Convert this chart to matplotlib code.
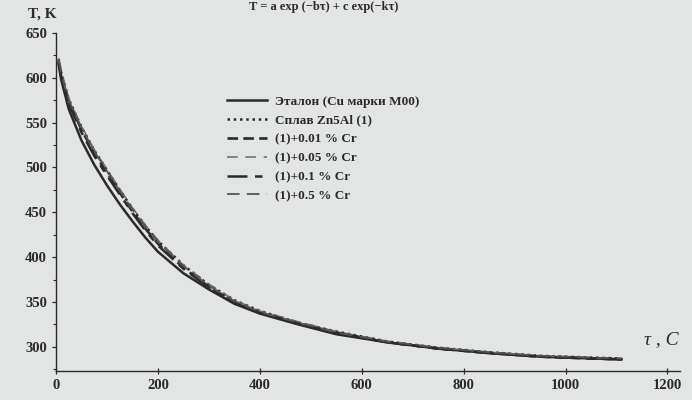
import numpy as np
import matplotlib.pyplot as plt
from matplotlib.ticker import MultipleLocator

# time, s and temperature, K
t = [5, 10, 25, 50, 75, 100, 125, 150, 175, 200, 250, 300, 350, 400, 475, 550, 650, 750, 850, 950, 1050, 1110]
etalon = [615, 598, 565, 530, 503, 480, 459, 440, 422, 406, 382, 364, 348, 337, 325, 314, 305, 298, 293, 289, 287, 286]
zn5al = [621, 606, 576, 545, 519, 497, 475, 454, 435, 418, 391, 369, 352, 340, 327, 317, 306, 299, 294, 290, 288, 287]
cr001 = [619, 604, 574, 542, 516, 494, 472, 451, 432, 415, 388, 367, 350, 338, 326, 316, 305, 298, 293, 289, 287, 286]
cr005 = [622, 607, 577, 546, 520, 498, 476, 455, 436, 419, 391, 370, 352, 340, 328, 317, 306, 299, 294, 290, 288, 287]
cr01 = [618, 602, 571, 539, 513, 491, 470, 449, 430, 413, 387, 366, 349, 338, 326, 315, 305, 298, 293, 289, 287, 286]
cr05 = [620, 605, 575, 544, 518, 496, 474, 453, 434, 417, 390, 368, 351, 339, 327, 316, 306, 299, 294, 290, 288, 287]

labels = ["Эталон (Cu марки M00)", "Сплав Zn5Al (1)", "(1)+0.01 % Cr",
          "(1)+0.05 % Cr", "(1)+0.1 % Cr", "(1)+0.5 % Cr"]
xticks = [0, 200, 400, 600, 800, 1000, 1200]
yticks = [300, 350, 400, 450, 500, 550, 600, 650]

bg = '#e3e5e4'
ink = '#2a2a2a'
serif = ['Liberation Serif', 'DejaVu Serif']

fig = plt.figure(figsize=(6.92, 4.0), dpi=100, facecolor=bg)
ax = fig.add_axes([0.081, 0.0725, 0.902, 0.845], facecolor=bg)

series = [etalon, zn5al, cr001, cr005, cr01, cr05]
styles = [
    dict(ls='-', lw=1.8, color=ink),
    dict(ls=(0, (1, 1.5)), lw=1.8, color=ink),
    dict(ls=(0, (4, 2)), lw=1.9, color=ink),
    dict(ls=(0, (7, 5)), lw=1.1, color='#6a6a6a'),
    dict(ls=(0, (8, 3, 3, 3)), lw=1.8, color=ink),
    dict(ls=(0, (7, 4)), lw=1.3, color='#555555'),
]
for y, lab, st in zip(series, labels, styles):
    ax.plot(t, y, label=lab, **st)

ax.set_xlim(0, 1225)
ax.set_ylim(273, 650)
ax.set_xticks(xticks)
ax.set_yticks(yticks)
ax.yaxis.set_minor_locator(MultipleLocator(25))
ax.tick_params(axis='both', direction='out', length=3, width=0.9, color=ink,
               labelsize=10.5, labelcolor=ink)
ax.tick_params(axis='y', which='minor', direction='out', length=2, width=0.8, color=ink)
ax.tick_params(axis='x', direction='inout', length=5)
for lbl in ax.get_xticklabels() + ax.get_yticklabels():
    lbl.set_family(serif)
    lbl.set_fontweight('bold')

for s in ['top', 'right']:
    ax.spines[s].set_visible(False)
for s in ['left', 'bottom']:
    ax.spines[s].set_color(ink)
    ax.spines[s].set_linewidth(1.0)

# axis captions
fig.text(0.040, 0.955, 'T, K', family=serif, fontweight='bold', fontsize=11, color=ink)
fig.text(0.930, 0.14, 'τ , C', family=serif, style='italic', fontsize=14, color=ink)

# formula at top of the page
fig.text(0.36, 0.998, 'T = a exp (−bτ) + c exp(−kτ)', family=serif, fontweight='bold',
         fontsize=9, color=ink, va='top')

leg = ax.legend(loc='upper left', bbox_to_anchor=(0.255, 0.85), frameon=False,
                handlelength=3.0, handletextpad=0.6, labelspacing=0.5,
                prop=dict(family=serif, weight='bold', size=9.5))
for txt in leg.get_texts():
    txt.set_color(ink)

fig.savefig('out.png', dpi=100, facecolor=bg)
